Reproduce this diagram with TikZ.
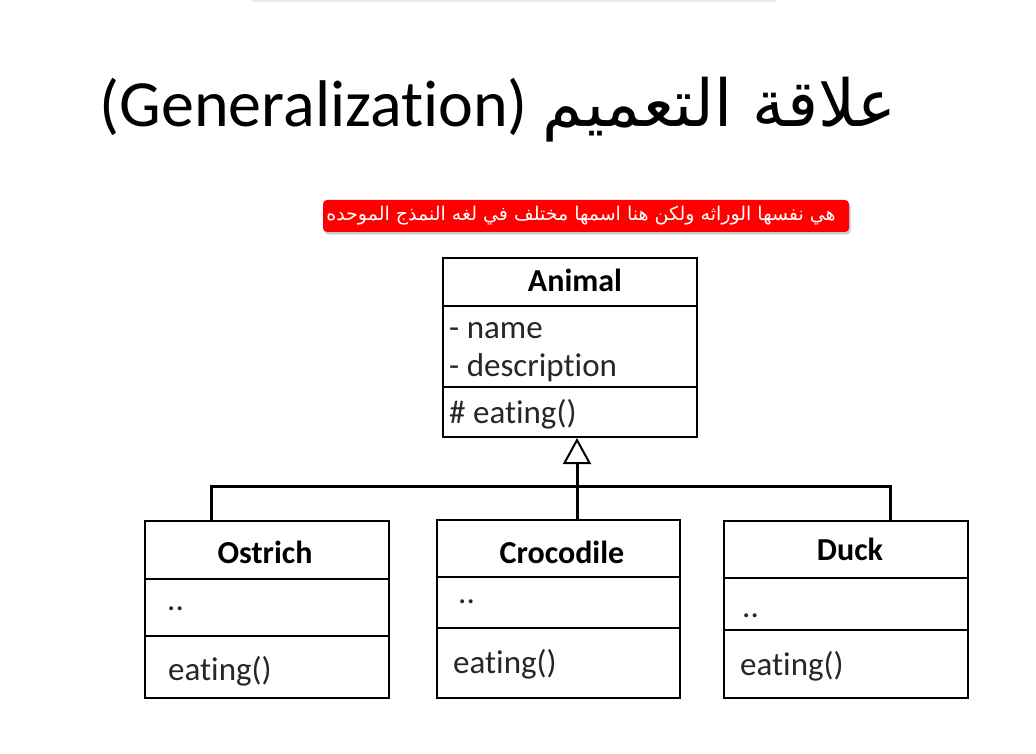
\documentclass[tikz,border=0pt]{standalone}
\usepackage{fontspec}
\setmainfont{Carlito}[Ligatures=CommonOff]
\newfontfamily\arabicfont[Script=Arabic]{DejaVu Sans}
\TeXXeTstate=1
\usetikzlibrary{arrows.meta,shadows}
\tikzset{
  classbox/.style={draw=black, line width=2pt, fill=white, inner sep=0pt},
  divider/.style={draw=black, line width=2pt},
  conn/.style={draw=black, line width=3pt},
  gen/.style={conn, -{Triangle[open, length=26pt, width=28pt, line width=2pt]}},
  ctitle/.style={font=\fontsize{32}{36}\selectfont\bfseries, inner sep=0pt, anchor=base},
  ctext/.style={font=\fontsize{33}{36}\selectfont, inner sep=0pt, anchor=base west, text=black!85},
  redbox/.style={fill=red, rounded corners=4pt, minimum width=526pt, minimum height=32pt, inner sep=0pt,
    drop shadow={shadow xshift=1.5pt, shadow yshift=-2.5pt, opacity=0.35, fill=black!60}},
}
\begin{document}
\begin{tikzpicture}[x=1pt,y=-1pt]
\useasboundingbox (0,0) rectangle (1036,754);
\fill[white] (0,0) rectangle (1036,754);
\fill[color=blue!5!black!9] (252,0) rectangle (776,2);

% title
\node[inner sep=0pt, anchor=center] (title) at (498,110)
  {\fontsize{66}{70}\selectfont\beginR{\arabicfont\fontsize{65}{70}\selectfont علاقة التعميم} \beginL(Generalization)\endL\endR};

% red note
\node[redbox] (note) at (586,216) {};
\node[inner sep=0pt, text=white] (notetext) at (581,216)
  {\arabicfont\fontsize{19}{22}\selectfont\beginR هي نفسها الوراثه ولكن هنا اسمها مختلف في لغه النمذج الموحده\endR};

% Animal
\node[classbox, minimum width=254pt, minimum height=179pt] (animal) at (570,347.5) {};
\draw[divider] (443,306) -- (697,306);
\draw[divider] (443,387) -- (697,387);
\node[ctitle] (animalT) at (575,291) {Animal};
\node[ctext] (animalA1) at (449,338) {- name};
\node[ctext] (animalA2) at (449,376) {- description};
\node[ctext] (animalM) at (449,423) {\# eating()};

% Ostrich
\node[classbox, minimum width=244pt, minimum height=177pt] (ostrich) at (267,609.5) {};
\draw[divider] (145,579) -- (389,579);
\draw[divider] (145,636) -- (389,636);
\node[ctitle] (ostrichT) at (265,563) {Ostrich};
\node[ctext] (ostrichA) at (167,610) {..};
\node[ctext] (ostrichM) at (168,680) {eating()};

% Crocodile
\node[classbox, minimum width=243pt, minimum height=178pt] (croc) at (558.5,609) {};
\draw[divider] (437,577) -- (680,577);
\draw[divider] (437,628) -- (680,628);
\node[ctitle] (crocT) at (562,563) {Crocodile};
\node[ctext] (crocA) at (458,603) {..};
\node[ctext] (crocM) at (453,673) {eating()};

% Duck
\node[classbox, minimum width=244pt, minimum height=177pt] (duck) at (846,609.5) {};
\draw[divider] (724,578) -- (968,578);
\draw[divider] (724,630) -- (968,630);
\node[ctitle] (duckT) at (850,560) {Duck};
\node[ctext] (duckA) at (742,617) {..};
\node[ctext] (duckM) at (740,675) {eating()};

% connectors
\coordinate (jo) at (211,486);
\coordinate (jc) at (577,486);
\coordinate (jd) at (890,486);
\draw[conn] (ostrich.north -| jo) -- (jo) -- (jd) -- (duck.north -| jd);
\draw[conn] (croc.north -| jc) -- (jc);
\draw[gen] (jc) -- (animal.south -| jc);
\end{tikzpicture}
\end{document}
